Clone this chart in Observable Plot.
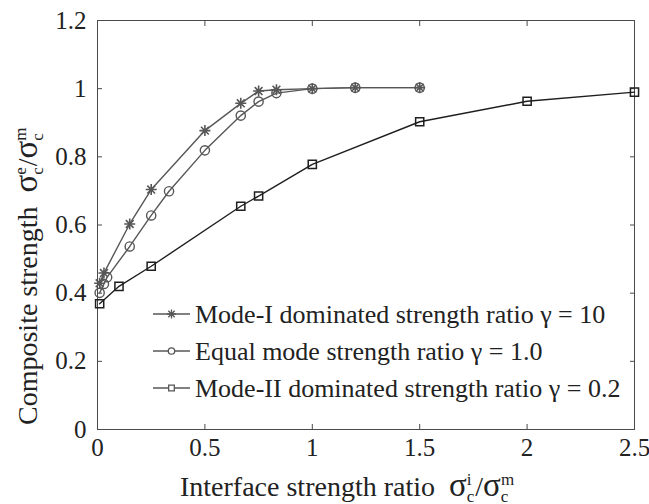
<!DOCTYPE html>
<html><head><meta charset="utf-8">
<script src="https://cdn.jsdelivr.net/npm/d3@7"></script>
<script src="https://cdn.jsdelivr.net/npm/@observablehq/plot@0.6"></script>
<style>
body{margin:0;background:#fff;}
#chart{position:relative;width:649px;height:504px;}
#chart svg text{font-family:'Liberation Serif','Times New Roman',serif;}
</style></head><body><div id="chart"></div>
<script>
// ---- data ----
const xModeI  = [0.01, 0.03, 0.15, 0.25, 0.5, 0.667, 0.75, 0.833, 1.0, 1.2, 1.5];
const yModeI  = [0.429, 0.459, 0.603, 0.704, 0.877, 0.957, 0.993, 0.997, 1.0, 1.003, 1.003];
const xEqual  = [0.01, 0.03, 0.045, 0.15, 0.25, 0.333, 0.5, 0.667, 0.75, 0.833, 1.0, 1.2, 1.5];
const yEqual  = [0.401, 0.427, 0.447, 0.537, 0.628, 0.699, 0.819, 0.921, 0.962, 0.987, 1.0, 1.003, 1.003];
const xModeII = [0.01, 0.1, 0.25, 0.667, 0.75, 1.0, 1.5, 2.0, 2.5];
const yModeII = [0.369, 0.42, 0.479, 0.655, 0.685, 0.778, 0.903, 0.963, 0.99];

const xTicks = [0, 0.5, 1, 1.5, 2, 2.5];
const xTickLabels = ["0", "0.5", "1", "1.5", "2", "2.5"];
const yTicks = [0, 0.2, 0.4, 0.6, 0.8, 1, 1.2];
const yTickLabels = ["0", "0.2", "0.4", "0.6", "0.8", "1", "1.2"];
const seriesNames = [
  "Mode-I dominated strength ratio \u03B3 = 10",
  "Equal mode strength ratio \u03B3 = 1.0",
  "Mode-II dominated strength ratio \u03B3 = 0.2"
];

const toRows = (xs, ys) => xs.map((x, i) => ({x, y: ys[i]}));
const dModeI = toRows(xModeI, yModeI);
const dEqual = toRows(xEqual, yEqual);
const dModeII = toRows(xModeII, yModeII);

const GRAY = "#575757", BLACK = "#1e1e1e", AXIS = "#4a4a4a";
const FONT = "Liberation Serif";

// 8-armed asterisk (like MATLAB '*')
const asterisk8 = {
  draw(ctx, size) {
    const r = Math.sqrt(size / Math.PI);
    const d = r * Math.SQRT1_2;
    ctx.moveTo(-r, 0); ctx.lineTo(r, 0);
    ctx.moveTo(0, -r); ctx.lineTo(0, r);
    ctx.moveTo(-d, -d); ctx.lineTo(d, d);
    ctx.moveTo(-d, d); ctx.lineTo(d, -d);
  }
};

const fmtX = d => xTickLabels[xTicks.indexOf(d)];
const fmtY = d => yTickLabels[yTicks.indexOf(d)];

const plot = Plot.plot({
  width: 649, height: 504,
  marginLeft: 97, marginRight: 15, marginTop: 20, marginBottom: 75,
  style: {fontFamily: FONT, fontSize: "25px", color: "#222", background: "#fff", overflow: "visible"},
  x: {domain: [0, 2.5]},
  y: {domain: [0, 1.2]},
  marks: [
    Plot.frame({stroke: AXIS, strokeWidth: 1}),
    Plot.axisX(xTicks, {anchor: "bottom", tickSize: 0, tickPadding: 9, tickFormat: fmtX, label: null, fontSize: 25, fontFamily: FONT, fill: "#222"}),
    Plot.axisY(yTicks, {anchor: "left", tickSize: 0, tickPadding: 11, tickFormat: fmtY, label: null, fontSize: 25, fontFamily: FONT, fill: "#222"}),
    Plot.axisX(xTicks, {anchor: "bottom", tickSize: -5, tickFormat: () => "", label: null, stroke: AXIS}),
    Plot.axisX(xTicks, {anchor: "top", tickSize: -5, tickFormat: () => "", label: null, stroke: AXIS}),
    Plot.axisY(yTicks, {anchor: "left", tickSize: -5, tickFormat: () => "", label: null, stroke: AXIS}),
    Plot.axisY(yTicks, {anchor: "right", tickSize: -5, tickFormat: () => "", label: null, stroke: AXIS}),
    Plot.line(dModeII, {x: "x", y: "y", stroke: BLACK, strokeWidth: 1.4}),
    Plot.dot(dModeII, {x: "x", y: "y", symbol: "square", r: 4.6, stroke: BLACK, fill: "none", strokeWidth: 1.5}),
    Plot.line(dEqual, {x: "x", y: "y", stroke: GRAY, strokeWidth: 1.4}),
    Plot.dot(dEqual, {x: "x", y: "y", symbol: "circle", r: 4.6, stroke: GRAY, fill: "none", strokeWidth: 1.4}),
    Plot.line(dModeI, {x: "x", y: "y", stroke: GRAY, strokeWidth: 1.4}),
    Plot.dot(dModeI, {x: "x", y: "y", symbol: asterisk8, r: 5.5, stroke: GRAY, fill: "none", strokeWidth: 1.6})
  ]
});
document.getElementById("chart").appendChild(plot);

const svg = d3.select(plot);

// ---- axis titles with sigma sub/superscripts ----
function sigmaFrac(t, supA, supB) {
  const fsS = 17;
  const w = s => fsS * ({i: 0.28, e: 0.45, c: 0.45, m: 0.78}[s] || 0.5);
  t.append("tspan").attr("font-size", 33).text("\u03C3");
  t.append("tspan").attr("font-size", fsS).attr("dy", -11).text(supA);
  t.append("tspan").attr("font-size", fsS).attr("dx", -w(supA)).attr("dy", 17).text("c");
  t.append("tspan").attr("dy", -6).attr("dx", 1).text("/");
  t.append("tspan").attr("font-size", 33).text("\u03C3");
  t.append("tspan").attr("font-size", fsS).attr("dy", -11).text(supB);
  t.append("tspan").attr("font-size", fsS).attr("dx", -w(supB)).attr("dy", 17).text("c");
}

const xt = svg.append("text")
  .attr("x", 180).attr("y", 496).attr("text-anchor", "start")
  .attr("font-family", FONT).attr("font-size", 28).attr("fill", "#222")
  .attr("xml:space", "preserve");
xt.append("tspan").text("Interface strength ratio  ");
sigmaFrac(xt, "i", "m");

const yt = svg.append("text")
  .attr("transform", "translate(37,425) rotate(-90)").attr("text-anchor", "start")
  .attr("font-family", FONT).attr("font-size", 28).attr("fill", "#222")
  .attr("xml:space", "preserve");
yt.append("tspan").text("Composite strength  ");
sigmaFrac(yt, "e", "m");

// ---- legend ----
const legRows = [314, 351, 388];
const legSymbols = [asterisk8, d3.symbolCircle, d3.symbolSquare];
const legSizes = [Math.PI * 4.5 * 4.5, Math.PI * 3.2 * 3.2, Math.PI * 3.2 * 3.2];
const lg = svg.append("g");
seriesNames.forEach((name, i) => {
  const y = legRows[i];
  lg.append("line").attr("x1", 153).attr("x2", 190).attr("y1", y).attr("y2", y)
    .attr("stroke", GRAY).attr("stroke-width", 1.4);
  lg.append("path").attr("transform", `translate(171.5,${y})`)
    .attr("d", d3.symbol(legSymbols[i], legSizes[i])())
    .attr("stroke", GRAY).attr("fill", i === 0 ? "none" : "#fff").attr("stroke-width", 1.3);
  lg.append("text").attr("x", 195).attr("y", y).attr("dy", "0.33em").attr("text-anchor", "start")
    .attr("font-family", FONT).attr("font-size", 26).attr("fill", "#222")
    .text(name);
});
</script></body></html>
